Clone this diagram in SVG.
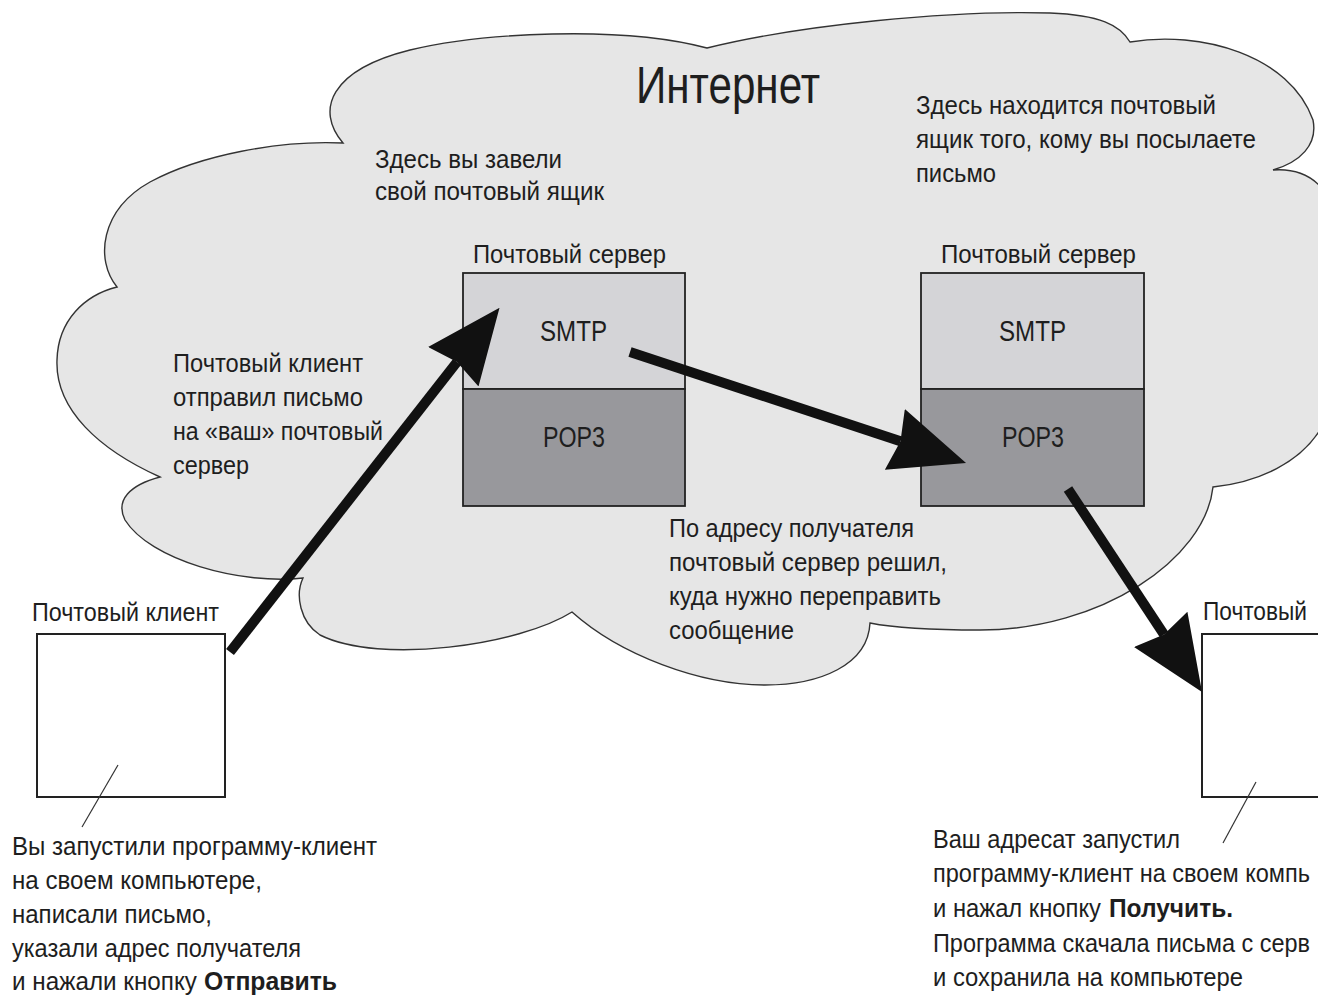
<svg xmlns="http://www.w3.org/2000/svg" width="1318" height="996" viewBox="0 0 1318 996">
<style>
text { font-family: "Liberation Sans", Arial, sans-serif; fill: #1e1e1e; }
.body { font-size: 26.5px; }
.bold { font-weight: bold; }
.title { font-size: 51px; }
.proto { font-size: 29px; }
.cloud { fill: #e6e6e6; stroke: #333; stroke-width: 1.4; }
.smtp { fill: #d4d4d7; stroke: #222; stroke-width: 1.8; }
.pop3 { fill: #98989c; stroke: #222; stroke-width: 1.8; }
.client { fill: #fff; stroke: #222; stroke-width: 2; }
.pointer { stroke: #333; stroke-width: 1.2; fill: none; }
.shaft { stroke: #111; stroke-width: 10; fill: none; }
</style>
<defs>
<marker id="head" markerUnits="userSpaceOnUse" markerWidth="75" markerHeight="64" viewBox="0 0 75 64" refX="6" refY="32" orient="auto">
<path d="M0,0 L75,32 L0,64 L6,32 Z" fill="#111"/>
</marker>
</defs>
<rect width="1318" height="996" fill="#fff"/>

<g id="internet-cloud">
<path class="cloud" d="M343,143 C315,110 330,70 410,50 C480,33 620,25 707,48 C800,25 950,10 1050,13 C1100,15 1120,25 1130,42 C1200,30 1290,55 1313,120 C1318,145 1300,162 1273,170 C1300,168 1318,178 1330,200 C1370,260 1370,400 1320,430 C1300,462 1260,482 1213,487 C1205,560 1100,630 980,630 C930,630 890,627 870,623 C868,665 820,685 765,685 C700,685 620,655 572,612 C520,645 380,665 320,635 C300,622 295,595 303,578 C240,585 150,560 125,520 C115,500 130,485 160,477 C100,450 55,410 57,360 C58,320 85,295 117,287 C95,260 100,210 150,182 C200,155 280,140 343,143 Z"/>
<text class="title" x="636" y="103" textLength="184" lengthAdjust="spacingAndGlyphs">Интернет</text>
</g>

<g id="note-own-box">
<text class="body" x="375" y="168" textLength="187" lengthAdjust="spacingAndGlyphs">Здесь вы завели</text>
<text class="body" x="375" y="200" textLength="229" lengthAdjust="spacingAndGlyphs">свой почтовый ящик</text>
</g>

<g id="note-recipient-box">
<text class="body" x="916" y="114" textLength="300" lengthAdjust="spacingAndGlyphs">Здесь находится почтовый</text>
<text class="body" x="916" y="148" textLength="340" lengthAdjust="spacingAndGlyphs">ящик того, кому вы посылаете</text>
<text class="body" x="916" y="182" textLength="80" lengthAdjust="spacingAndGlyphs">письмо</text>
</g>

<g id="server-1">
<text class="body" x="473" y="263" textLength="193" lengthAdjust="spacingAndGlyphs">Почтовый сервер</text>
<rect class="smtp" x="463" y="273" width="222" height="116"/>
<rect class="pop3" x="463" y="389" width="222" height="117"/>
<text class="proto" x="540" y="341" textLength="67" lengthAdjust="spacingAndGlyphs">SMTP</text>
<text class="proto" x="543" y="447" textLength="62" lengthAdjust="spacingAndGlyphs">POP3</text>
</g>

<g id="server-2">
<text class="body" x="941" y="263" textLength="195" lengthAdjust="spacingAndGlyphs">Почтовый сервер</text>
<rect class="smtp" x="921" y="273" width="223" height="116"/>
<rect class="pop3" x="921" y="389" width="223" height="117"/>
<text class="proto" x="999" y="341" textLength="67" lengthAdjust="spacingAndGlyphs">SMTP</text>
<text class="proto" x="1002" y="447" textLength="62" lengthAdjust="spacingAndGlyphs">POP3</text>
</g>

<g id="note-sent">
<text class="body" x="173" y="372" textLength="190" lengthAdjust="spacingAndGlyphs">Почтовый клиент</text>
<text class="body" x="173" y="406" textLength="190" lengthAdjust="spacingAndGlyphs">отправил письмо</text>
<text class="body" x="173" y="440" textLength="210" lengthAdjust="spacingAndGlyphs">на «ваш» почтовый</text>
<text class="body" x="173" y="474" textLength="76" lengthAdjust="spacingAndGlyphs">сервер</text>
</g>

<g id="note-routing">
<text class="body" x="669" y="537" textLength="245" lengthAdjust="spacingAndGlyphs">По адресу получателя</text>
<text class="body" x="669" y="571" textLength="278" lengthAdjust="spacingAndGlyphs">почтовый сервер решил,</text>
<text class="body" x="669" y="605" textLength="272" lengthAdjust="spacingAndGlyphs">куда нужно переправить</text>
<text class="body" x="669" y="639" textLength="125" lengthAdjust="spacingAndGlyphs">сообщение</text>
</g>

<g id="client-1">
<text class="body" x="32" y="621" textLength="187" lengthAdjust="spacingAndGlyphs">Почтовый клиент</text>
<rect class="client" x="37" y="634" width="188" height="163"/>
<line class="pointer" x1="118" y1="765" x2="82" y2="827"/>
<text class="body" x="12" y="855" textLength="365" lengthAdjust="spacingAndGlyphs">Вы запустили программу-клиент</text>
<text class="body" x="12" y="889" textLength="250" lengthAdjust="spacingAndGlyphs">на своем компьютере,</text>
<text class="body" x="12" y="923" textLength="200" lengthAdjust="spacingAndGlyphs">написали письмо,</text>
<text class="body" x="12" y="957" textLength="289" lengthAdjust="spacingAndGlyphs">указали адрес получателя</text>
<text class="body" y="990"><tspan x="12" textLength="185" lengthAdjust="spacingAndGlyphs">и нажали кнопку</tspan><tspan class="bold" x="204" textLength="133" lengthAdjust="spacingAndGlyphs">Отправить</tspan></text>
</g>

<g id="client-2">
<text class="body" x="1203" y="620" textLength="104" lengthAdjust="spacingAndGlyphs">Почтовый</text>
<rect class="client" x="1202" y="634" width="140" height="163"/>
<line class="pointer" x1="1256" y1="782" x2="1223" y2="843"/>
<text class="body" x="933" y="848" textLength="247" lengthAdjust="spacingAndGlyphs">Ваш адресат запустил</text>
<text class="body" x="933" y="882" textLength="377" lengthAdjust="spacingAndGlyphs">программу-клиент на своем компь</text>
<text class="body" y="917"><tspan x="933" textLength="168" lengthAdjust="spacingAndGlyphs">и нажал кнопку</tspan><tspan class="bold" x="1109" textLength="124" lengthAdjust="spacingAndGlyphs">Получить.</tspan></text>
<text class="body" x="933" y="952" textLength="377" lengthAdjust="spacingAndGlyphs">Программа скачала письма с серв</text>
<text class="body" x="933" y="986" textLength="310" lengthAdjust="spacingAndGlyphs">и сохранила на компьютере</text>
</g>

<g id="connectors">
<line class="shaft" x1="230" y1="652" x2="457" y2="362" marker-end="url(#head)"/>
<line class="shaft" x1="630" y1="352" x2="900.5" y2="441.3" marker-end="url(#head)"/>
<line class="shaft" x1="1068" y1="489" x2="1164" y2="634.4" marker-end="url(#head)"/>
</g>
</svg>
